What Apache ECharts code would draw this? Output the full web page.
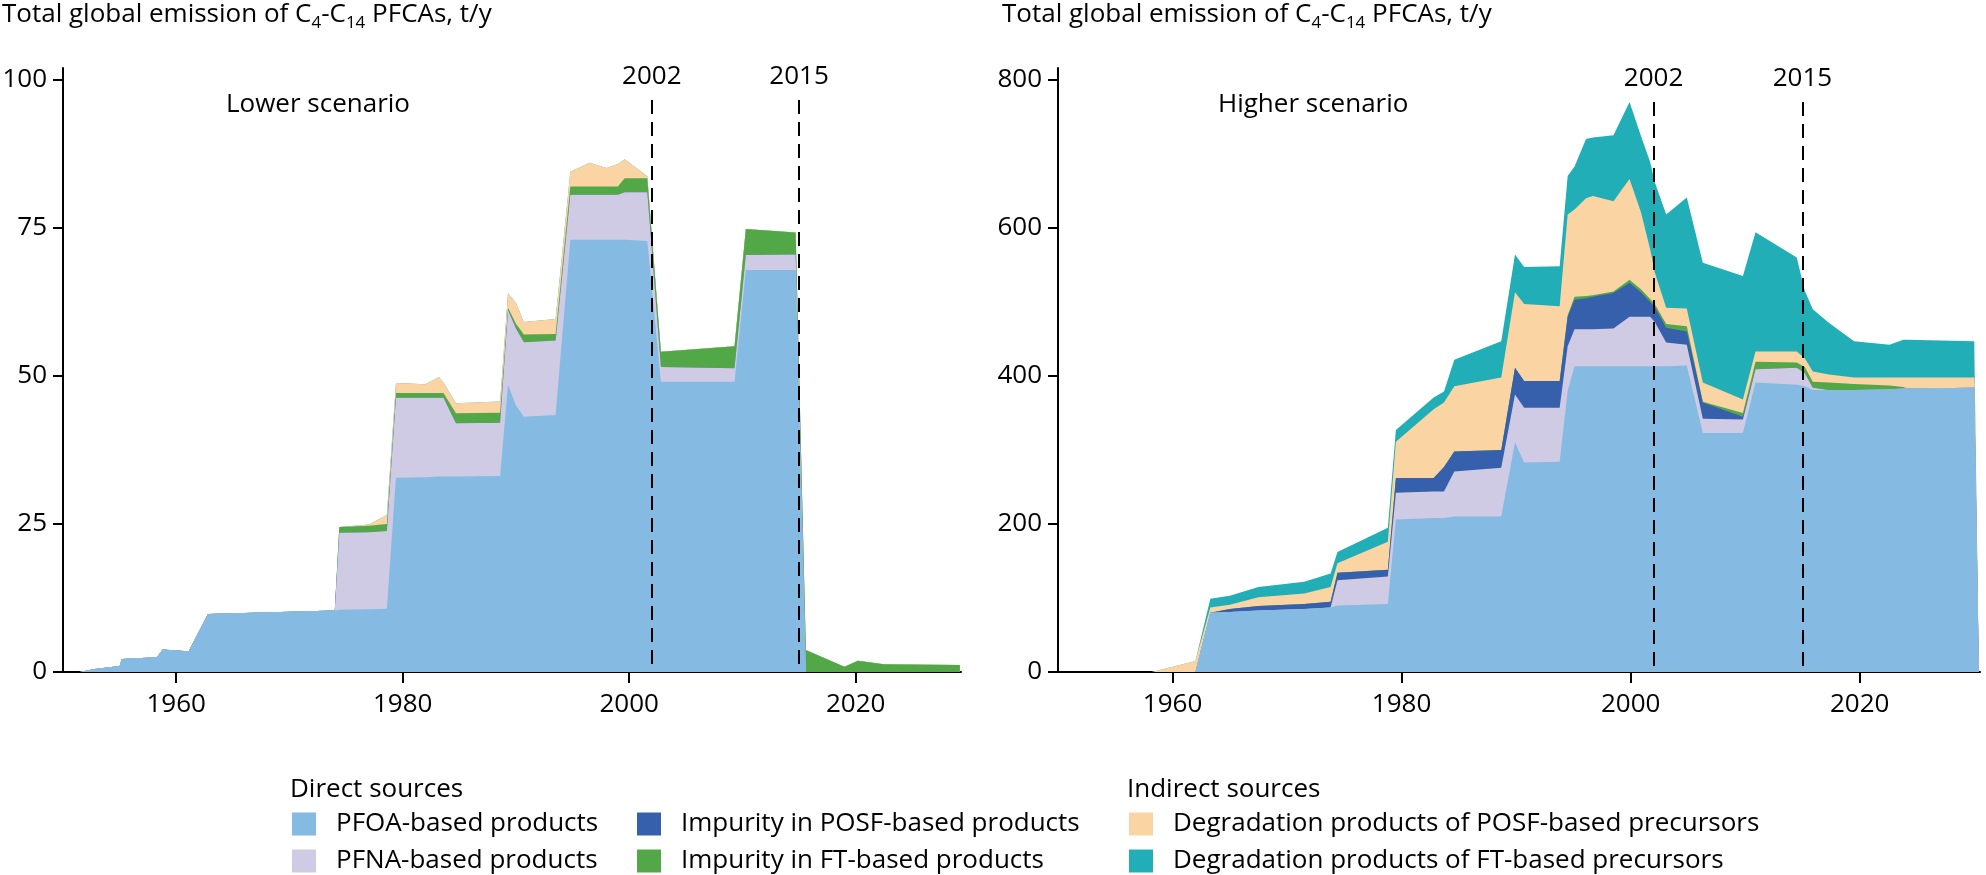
<!DOCTYPE html>
<html><head><meta charset="utf-8">
<script src="https://cdn.jsdelivr.net/npm/echarts@6/dist/echarts.min.js"></script>
<style>html,body{margin:0;padding:0;background:#fff}#c{width:1986px;height:875px}</style>
</head><body><div id="c"></div>
<script>
const FONT = '"Open Sans", sans-serif';

// ---- Lower scenario (t/y) ----
const yearsLower = [1951.5, 1952.8, 1955.0, 1955.2, 1958.3, 1958.8, 1960.3, 1961.1, 1962.8, 1974.0, 1974.4, 1977.0, 1978.6, 1979.4, 1982.0, 1983.2, 1983.6, 1984.7, 1988.6, 1989.3, 1990.0, 1990.7, 1993.5, 1994.8, 1996.5, 1998.0, 1999.0, 1999.6, 2001.6, 2002.8, 2009.3, 2010.3, 2014.7, 2015.6, 2019.0, 2020.2, 2022.5, 2029.2];
const lowerPFOA = [0, 0.5, 1.0, 2.2, 2.5, 3.8, 3.6, 3.5, 9.8, 10.4, 10.5, 10.6, 10.7, 32.8, 32.9, 33.0, 33.0, 33.0, 33.1, 48.5, 45.0, 43.1, 43.4, 73.0, 73.0, 73.0, 73.0, 73.0, 72.8, 49.0, 49.0, 67.9, 67.9, 0, 0, 0, 0, 0];
const lowerPFNA = [0, 0, 0, 0, 0, 0, 0, 0, 0, 0, 13.0, 13.0, 13.1, 13.5, 13.4, 13.3, 13.3, 9.0, 9.0, 12.6, 13.0, 12.6, 12.6, 7.6, 7.6, 7.6, 7.6, 8.0, 8.2, 2.5, 2.3, 2.5, 2.6, 0, 0, 0, 0, 0];
const lowerPOSFimp = [0, 0, 0, 0, 0, 0, 0, 0, 0, 0, 0, 0, 0, 0, 0, 0, 0, 0, 0, 0, 0, 0, 0, 0, 0, 0, 0, 0, 0, 0, 0, 0, 0, 0, 0, 0, 0, 0];
const lowerFTimp = [0, 0, 0, 0, 0, 0, 0, 0, 0, 0, 1.0, 1.1, 1.2, 0.8, 0.8, 0.8, 0.8, 1.7, 1.7, 0.4, 0.8, 1.3, 1.1, 1.4, 1.4, 1.4, 1.4, 2.4, 2.4, 2.6, 3.7, 4.4, 3.7, 3.7, 0.9, 1.9, 1.3, 1.2];
const lowerPOSFdeg = [0, 0, 0, 0, 0, 0, 0, 0, 0, 0, 0, 0.2, 1.5, 1.7, 1.5, 2.7, 1.8, 1.7, 1.9, 2.5, 3.5, 2.1, 2.5, 2.5, 4.0, 3.1, 3.8, 3.2, 0.3, 0, 0, 0, 0, 0, 0, 0, 0, 0];
const lowerFTdeg = [0, 0, 0, 0, 0, 0, 0, 0, 0, 0, 0, 0, 0, 0, 0, 0, 0, 0, 0, 0, 0, 0, 0, 0, 0, 0, 0, 0, 0, 0, 0, 0, 0, 0, 0, 0, 0, 0];

// ---- Higher scenario (t/y) ----
const yearsHigher = [1958.2, 1961.5, 1962.0, 1963.3, 1965.0, 1967.5, 1971.5, 1973.8, 1974.4, 1978.8, 1979.5, 1982.8, 1983.7, 1984.6, 1988.7, 1989.9, 1990.7, 1993.8, 1994.5, 1995.1, 1996.1, 1996.7, 1998.5, 1999.9, 2000.9, 2001.7, 2002.1, 2003.1, 2004.9, 2006.3, 2009.8, 2010.9, 2014.5, 2015.2, 2015.9, 2017.3, 2019.5, 2022.6, 2023.8, 2024.2, 2030.0, 2030.05, 2030.4];
const higherPFOA = [0, 0, 0, 80, 81, 83, 85, 87, 90, 92, 206, 208, 208, 210, 210, 310, 283, 284, 380, 413, 413, 413, 413, 413, 413, 413, 413, 413, 414, 323, 323, 391, 388, 386, 381, 381, 381, 382, 383, 383, 384, 384, 0];
const higherPFNA = [0, 0, 0, 0, 0, 0, 0, 0, 34, 37, 36, 36, 36, 61, 66, 65, 74, 73, 60, 50, 50, 50, 51, 67, 67, 67, 60, 32, 28, 19, 18, 18, 23, 18, 3, 0, 0, 0, 0, 0, 0, 0, 0];
const higherPOSFimp = [0, 0, 0, 0, 4, 6, 7, 8, 10, 9, 20, 18, 33, 27, 24, 36, 36, 36, 40, 40, 42, 44, 48, 46, 33, 20, 20, 20, 18, 22, 4, 0, 0, 0, 0, 0, 0, 0, 0, 0, 0, 0, 0];
const higherFTimp = [0, 0, 0, 0, 0, 0, 0, 0, 0, 0, 0, 0, 0, 0, 0, 0, 0, 0, 2, 4, 3, 2, 2, 4, 4, 4, 4, 5, 7, 1, 5, 10, 7, 8, 8, 10, 8, 5, 2, 0, 0, 0, 0];
const higherPOSFdeg = [0, 13, 15, 7, 6, 12, 14, 20, 13, 38, 49, 93, 87, 88, 98, 102, 104, 101, 136, 118, 132, 134, 122, 136, 104, 67, 43, 22, 24, 26, 18, 14, 15, 12, 14, 11, 9, 11, 13, 15, 14, 0, 0];
const higherFTdeg = [0, 0, 0, 12, 12, 14, 16, 18, 15, 19, 16, 16, 15, 36, 49, 51, 50, 54, 52, 58, 80, 79, 89, 104, 103, 118, 122, 126, 150, 162, 167, 161, 127, 91, 84, 70, 49, 44, 51, 51, 49, 0, 0];

// ---- labels ----
const seriesNames = ['PFOA-based products', 'PFNA-based products', 'Impurity in POSF-based products', 'Impurity in FT-based products', 'Degradation products of POSF-based precursors', 'Degradation products of FT-based precursors'];
const seriesColors = ['#85BBE2', '#CFCBE5', '#3760AC', '#52A846', '#FAD5A3', '#22AEB7'];
const xTickYears = [1960, 1980, 2000, 2020];
const yTicksLower = [0, 25, 50, 75, 100];
const yTicksHigher = [0, 200, 400, 600, 800];
const refYears = [2002, 2015];

const lowerSets = [lowerPFOA, lowerPFNA, lowerPOSFimp, lowerFTimp, lowerPOSFdeg, lowerFTdeg];
const higherSets = [higherPFOA, higherPFNA, higherPOSFimp, higherFTimp, higherPOSFdeg, higherFTdeg];

// stacked areas: each layer is drawn from 0 up to the running total, top layers first
function stackedSeries(xs, sets, idx) {
  const cum = [];
  let run = xs.map(() => 0);
  sets.forEach(s => { run = run.map((v, k) => v + s[k]); cum.push(run.slice()); });
  const out = [];
  for (let i = sets.length - 1; i >= 0; i--) {
    out.push({
      name: seriesNames[i], type: 'line', xAxisIndex: idx, yAxisIndex: idx,
      symbol: 'none', silent: true,
      lineStyle: { width: 0 },
      itemStyle: { color: seriesColors[i] },
      areaStyle: { color: seriesColors[i], opacity: 1 },
      data: xs.map((x, k) => [x, cum[i][k]])
    });
  }
  return out;
}
function refSeries(idx, top) {
  return {
    name: 'ref' + idx, type: 'line', xAxisIndex: idx, yAxisIndex: idx, data: [],
    markLine: {
      silent: true, symbol: ['none', 'none'], animation: false,
      lineStyle: { color: '#000', width: 2, type: [14, 8] },
      label: { show: true, position: 'start', formatter: '{b}', fontSize: 26, fontFamily: FONT, color: '#000', distance: 10 },
      data: refYears.map(y => [{ coord: [y, top], name: String(y) }, { coord: [y, 0] }])
    }
  };
}
function xAxis(idx, max) {
  return {
    type: 'value', gridIndex: idx, min: 1950, max: max,
    axisLine: { onZero: false, lineStyle: { color: '#000', width: 2 } },
    axisTick: { show: true, length: 11, customValues: xTickYears, lineStyle: { color: '#000', width: 2 } },
    axisLabel: { customValues: xTickYears, fontSize: 26, fontFamily: FONT, color: '#000', margin: 20,
      formatter: v => xTickYears.includes(v) ? String(v) : '' },
    splitLine: { show: false }
  };
}
function yAxis(idx, max, ticks) {
  return {
    type: 'value', gridIndex: idx, min: 0, max: max,
    axisLine: { show: true, lineStyle: { color: '#000', width: 2 } },
    axisTick: { show: true, length: 10, customValues: ticks, lineStyle: { color: '#000', width: 2 } },
    axisLabel: { customValues: ticks, fontSize: 26, fontFamily: FONT, color: '#000', margin: 16,
      formatter: v => ticks.includes(v) ? String(v) : '' },
    splitLine: { show: false }
  };
}
function titleText(x) {
  return {
    type: 'text', x: x, y: 15,
    style: {
      text: '{n|Total global emission of C}{s|4}{n|-C}{s|14}{n| PFCAs, t/y}',
      verticalAlign: 'middle',
      rich: {
        n: { fontSize: 26, fontFamily: FONT, lineHeight: 34, verticalAlign: 'middle', fill: '#000' },
        s: { fontSize: 17, fontFamily: FONT, lineHeight: 17, verticalAlign: 'bottom', fill: '#000' }
      }
    }
  };
}
function plainText(x, y, t) {
  return { type: 'text', x: x, y: y, style: { text: t, fontSize: 26, fontFamily: FONT, fill: '#000', verticalAlign: 'middle' } };
}
function legend(left, names) {
  return {
    orient: 'vertical', left: left, top: 811, padding: 0, itemGap: 11, itemWidth: 24, itemHeight: 23,
    icon: 'rect', selectedMode: false, data: names,
    itemStyle: { borderWidth: 0 },
    textStyle: { fontSize: 26, fontFamily: FONT, color: '#000', padding: [0, 0, 0, 15] }
  };
}

const series = [].concat(
  stackedSeries(yearsLower, lowerSets, 0),
  stackedSeries(yearsHigher, higherSets, 1),
  [refSeries(0, 96.6), refSeries(1, 770)]
);

const chart = echarts.init(document.getElementById('c'), null, { renderer: 'canvas' });
chart.setOption({
  animation: false,
  backgroundColor: '#fff',
  grid: [
    { left: 63, top: 68, width: 898, height: 604, outerBoundsMode: 'none' },
    { left: 1058, top: 68, width: 922, height: 604, outerBoundsMode: 'none' }
  ],
  xAxis: [xAxis(0, 2029.3), xAxis(1, 2030.5)],
  yAxis: [yAxis(0, 102, yTicksLower), yAxis(1, 816, yTicksHigher)],
  legend: [
    legend(292, seriesNames.slice(0, 2)),
    legend(637, seriesNames.slice(2, 4)),
    legend(1129, seriesNames.slice(4, 6))
  ],
  graphic: [
    titleText(2), titleText(1002),
    plainText(226, 105, 'Lower scenario'),
    plainText(1218, 105, 'Higher scenario'),
    plainText(290, 790, 'Direct sources'),
    plainText(1127, 790, 'Indirect sources')
  ],
  series: series
});
</script></body></html>
